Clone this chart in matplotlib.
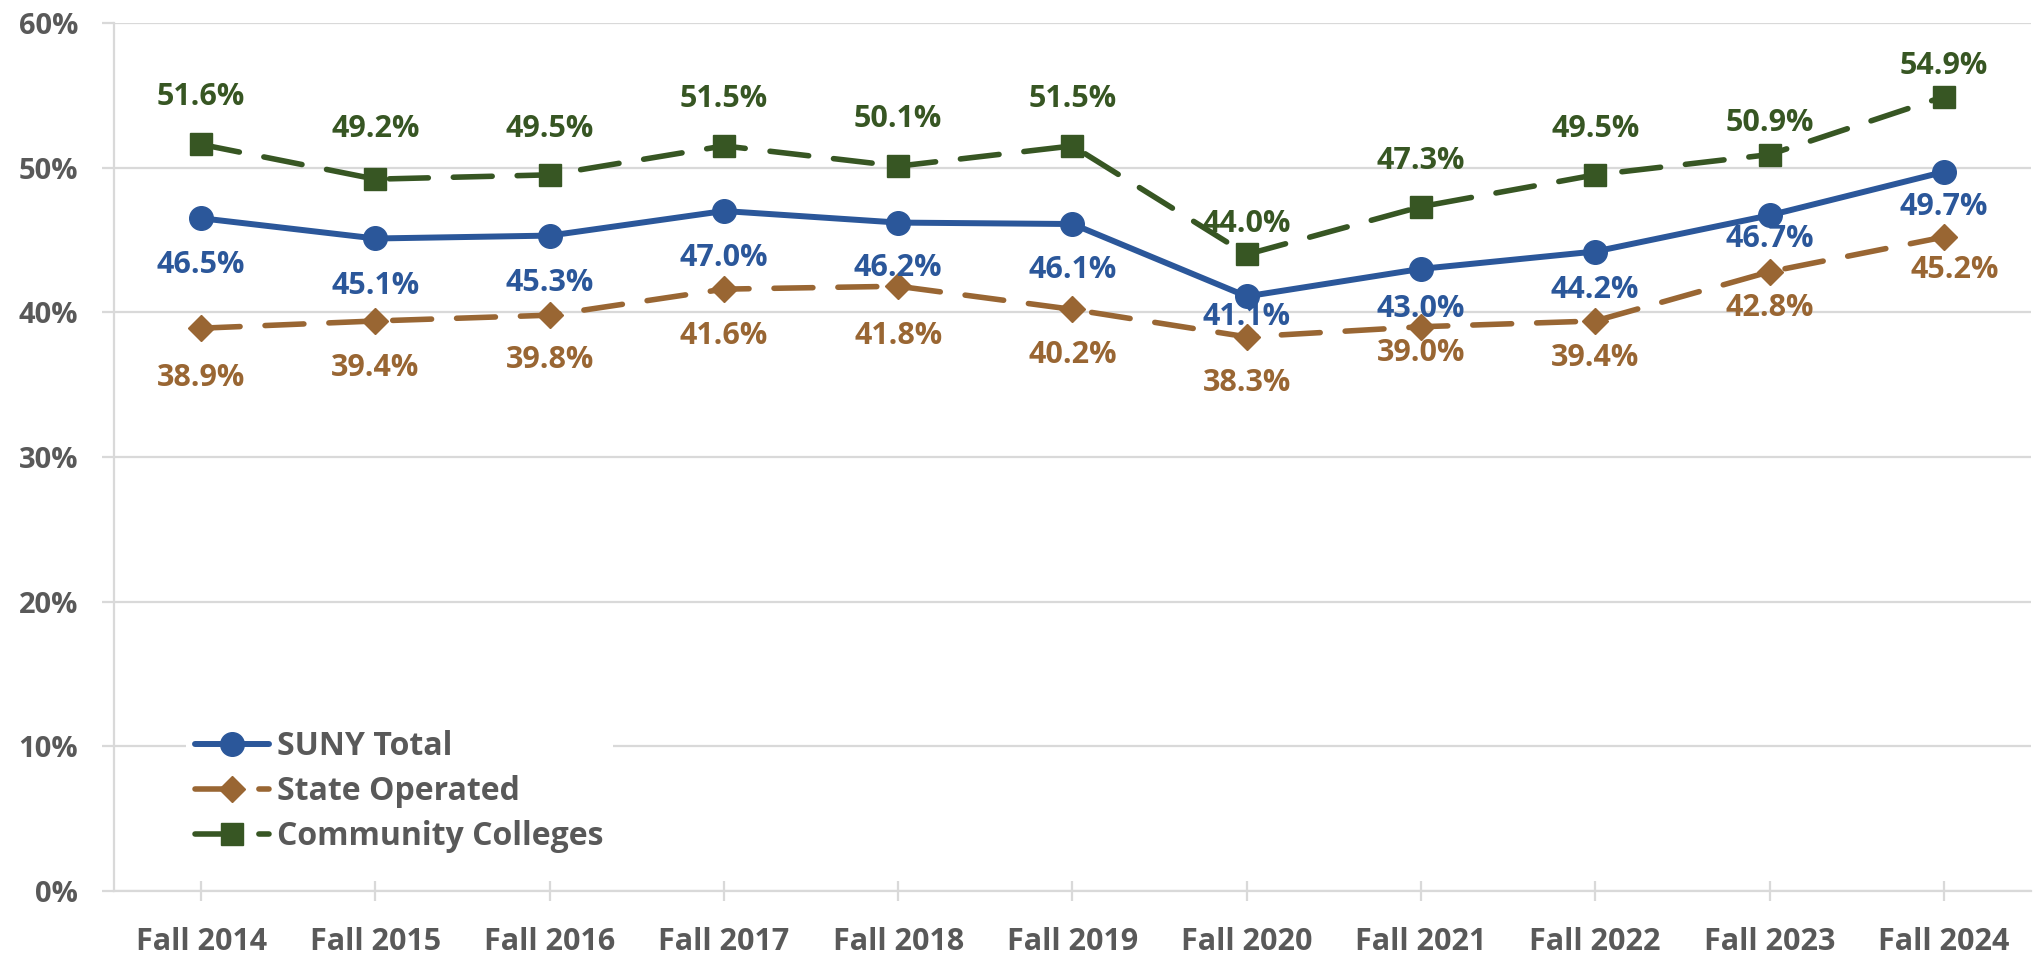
import numpy as np
import matplotlib
matplotlib.use("Agg")
import matplotlib.pyplot as plt

# data
terms = ["Fall 2014", "Fall 2015", "Fall 2016", "Fall 2017", "Fall 2018", "Fall 2019",
         "Fall 2020", "Fall 2021", "Fall 2022", "Fall 2023", "Fall 2024"]
suny_total = [46.5, 45.1, 45.3, 47.0, 46.2, 46.1, 41.1, 43.0, 44.2, 46.7, 49.7]
state_operated = [38.9, 39.4, 39.8, 41.6, 41.8, 40.2, 38.3, 39.0, 39.4, 42.8, 45.2]
community_colleges = [51.6, 49.2, 49.5, 51.5, 50.1, 51.5, 44.0, 47.3, 49.5, 50.9, 54.9]
y_ticks = [0, 10, 20, 30, 40, 50, 60]

# label offsets (points) - labels were nudged by hand in the original
suny_off = [-34, -34, -34, -34, -33, -33, -15, -29, -28, -17, -25]
state_off = [-36, -34, -32, -34, -36, -33, -33, -19, -27, -26, -24]
cc_off = [34, 36, 33, 34, 34, 34, 22, 33, 33, 23, 22]

plt.rcParams['font.family'] = ['Open Sans', 'DejaVu Sans']
plt.rcParams['font.weight'] = 'bold'

blue = '#2B579A'
brown = '#996633'
green = '#375623'
grey_txt = '#595959'
grid_col = '#D9D9D9'

fig = plt.figure(figsize=(20.37, 9.55), dpi=100)
ax = fig.add_axes([0.056, 0.067, 0.941, 0.909])

x = np.arange(len(terms))

ax.plot(x, suny_total, color=blue, lw=4.3, marker='o', ms=17,
        label='SUNY Total', zorder=3, solid_capstyle='round')
ax.plot(x, state_operated, color=brown, lw=4.0, marker='D', ms=13,
        dashes=(7, 4.5), dash_capstyle='round', label='State Operated', zorder=3)
ax.plot(x, community_colleges, color=green, lw=4.0, marker='s', ms=16,
        dashes=(7, 4.5), dash_capstyle='round', label='Community Colleges', zorder=4)

lab_kw = dict(ha='center', va='center', fontsize=22, fontweight='bold',
              textcoords='offset points', zorder=6)
for xi, v, o in zip(x, suny_total, suny_off):
    ax.annotate(f"{v:.1f}%", (xi, v), xytext=(0, o), color=blue, **lab_kw)
for xi, v, o in zip(x, state_operated, state_off):
    dx = 8 if xi == len(terms) - 1 else 0
    ax.annotate(f"{v:.1f}%", (xi, v), xytext=(dx, o), color=brown, **lab_kw)
for xi, v, o in zip(x, community_colleges, cc_off):
    ax.annotate(f"{v:.1f}%", (xi, v), xytext=(0, o), color=green, **lab_kw)

ax.set_xlim(-0.5, len(terms) - 0.5)
ax.set_ylim(0, 60)
ax.set_yticks(y_ticks)
ax.set_yticklabels([f"{t}%" for t in y_ticks])
ax.set_xticks(x)
ax.set_xticklabels(terms)

ax.grid(axis='y', color=grid_col, lw=1.6, zorder=0)
ax.set_axisbelow(True)
for s in ['top', 'right']:
    ax.spines[s].set_visible(False)
for s in ['left', 'bottom']:
    ax.spines[s].set_color(grid_col)
    ax.spines[s].set_linewidth(1.6)

ax.tick_params(axis='y', length=9, width=1.6, color=grid_col, labelsize=21,
               labelcolor=grey_txt, pad=17)
ax.tick_params(axis='x', direction='inout', length=14, width=1.6, color=grid_col,
               labelsize=22, labelcolor=grey_txt, pad=19)

leg = ax.legend(loc='lower left', bbox_to_anchor=(0.029, 0.014), frameon=True,
                fontsize=23, handlelength=2.3, handletextpad=0.25, labelspacing=0.38,
                borderpad=0.3)
leg.get_frame().set_facecolor('white')
leg.get_frame().set_edgecolor('none')
leg.get_frame().set_alpha(1)
for t in leg.get_texts():
    t.set_color(grey_txt)

fig.savefig('out.png', dpi=100)
